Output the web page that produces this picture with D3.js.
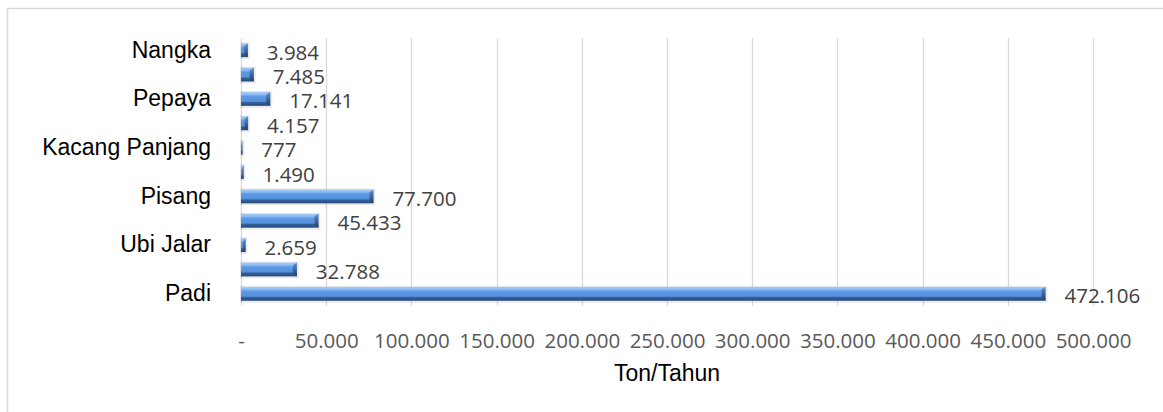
<!DOCTYPE html>
<html>
<head>
<meta charset="utf-8">
<script src="https://cdn.jsdelivr.net/npm/d3@7"></script>
<style>
  html, body { margin: 0; padding: 0; background: #fff; }
  svg { display: block; }
</style>
</head>
<body>
<div id="chart"></div>
<script>
// categories from bottom to top; only every other one is labelled in the original
const categories = ["Padi", "Jagung", "Ubi Jalar", "Ubi Kayu", "Pisang", "Cabai",
  "Kacang Panjang", "Tomat", "Pepaya", "Mangga", "Nangka"];
const production = [472106, 32788, 2659, 45433, 77700, 1490, 777, 4157, 17141, 7485, 3984];
const xTicks = [0, 50000, 100000, 150000, 200000, 250000, 300000, 350000, 400000, 450000, 500000];
const axisTitle = "Ton/Tahun";

const width = 1163, height = 412;
const plot = { left: 241, right: 1093, top: 38, bottom: 306 };

const fmt = v => v === 0 ? "-" : d3.format(",")(v).replace(/,/g, ".");

const svg = d3.select("#chart").append("svg")
  .attr("width", width)
  .attr("height", height);

// gradients for the bevelled bars
const defs = svg.append("defs");
const grad = defs.append("linearGradient")
  .attr("id", "barGrad")
  .attr("x1", 0).attr("y1", 0).attr("x2", 0).attr("y2", 1);
grad.append("stop").attr("offset", "0%").attr("stop-color", "#a9cdf5");
grad.append("stop").attr("offset", "22%").attr("stop-color", "#84b6f0");
grad.append("stop").attr("offset", "30%").attr("stop-color", "#5e9be6");
grad.append("stop").attr("offset", "68%").attr("stop-color", "#548fdb");
grad.append("stop").attr("offset", "76%").attr("stop-color", "#34609a");
grad.append("stop").attr("offset", "100%").attr("stop-color", "#264a78");

const capGrad = defs.append("linearGradient")
  .attr("id", "capGrad")
  .attr("x1", 0).attr("y1", 0).attr("x2", 0).attr("y2", 1);
capGrad.append("stop").attr("offset", "0%").attr("stop-color", "#5d8fcf");
capGrad.append("stop").attr("offset", "100%").attr("stop-color", "#1f3d66");

// chart area border
svg.append("rect")
  .attr("x", 7.5).attr("y", 8.5)
  .attr("width", width + 20).attr("height", height + 20)
  .attr("fill", "none")
  .attr("stroke", "#d9d9d9")
  .attr("stroke-width", 1.5);

const x = d3.scaleLinear()
  .domain([0, 500000])
  .range([plot.left, plot.right]);

const y = d3.scaleBand()
  .domain(categories)
  .range([plot.bottom, plot.top])
  .paddingInner(0.43)
  .paddingOuter(0.215);

// gridlines
svg.append("g")
  .selectAll("line")
  .data(xTicks)
  .join("line")
  .attr("x1", d => Math.round(x(d)) + 0.5)
  .attr("x2", d => Math.round(x(d)) + 0.5)
  .attr("y1", plot.top)
  .attr("y2", plot.bottom)
  .attr("stroke", "#d9d9d9")
  .attr("stroke-width", 1.3);

// x axis labels
const xAxis = svg.append("g")
  .attr("transform", `translate(0, ${plot.bottom})`)
  .call(d3.axisBottom(x).tickValues(xTicks).tickFormat(fmt).tickSize(0).tickPadding(27));
xAxis.select(".domain").remove();
xAxis.selectAll("text")
  .attr("font-family", "'Open Sans', sans-serif")
  .attr("font-size", "20.5px")
  .attr("fill", "#595959");

// y axis labels (every other category)
const yAxis = svg.append("g")
  .attr("transform", `translate(${plot.left}, 0)`)
  .call(d3.axisLeft(y).tickSize(0).tickPadding(30)
    .tickFormat((d, i) => i % 2 === 0 ? d : ""));
yAxis.select(".domain").remove();
yAxis.selectAll("text")
  .attr("font-family", "Arial, 'Liberation Sans', sans-serif")
  .attr("font-size", "23px")
  .attr("fill", "#000");

const rows = categories.map((c, i) => ({ name: c, value: production[i] }));

const bars = svg.append("g")
  .selectAll("g")
  .data(rows)
  .join("g");

// soft shadow
bars.append("rect")
  .attr("x", x(0) - 1)
  .attr("y", d => y(d.name) - 1)
  .attr("width", d => Math.max(1, x(d.value) - x(0)) + 3)
  .attr("height", y.bandwidth() + 3)
  .attr("fill", "#000")
  .attr("opacity", 0.08);

bars.append("rect")
  .attr("x", x(0))
  .attr("y", d => y(d.name))
  .attr("width", d => Math.max(1.5, x(d.value) - x(0)))
  .attr("height", y.bandwidth())
  .attr("fill", "url(#barGrad)");

// bevelled right end
bars.append("path")
  .attr("d", d => {
    const x1 = x(d.value), y0 = y(d.name), h = y.bandwidth();
    const b = Math.min(4, (x1 - x(0)) / 2);
    return `M${x1 - b},${y0 + 3} L${x1},${y0} L${x1},${y0 + h} L${x1 - b},${y0 + h - 3} Z`;
  })
  .attr("fill", "url(#capGrad)");

// value labels
bars.append("text")
  .attr("x", d => x(d.value) + 19)
  .attr("y", d => y(d.name) + y.bandwidth() / 2 + 1.5)
  .attr("dominant-baseline", "central")
  .attr("font-family", "'Open Sans', sans-serif")
  .attr("font-size", "20.5px")
  .attr("fill", "#404040")
  .text(d => fmt(d.value));

// axis title
svg.append("text")
  .attr("x", (plot.left + plot.right) / 2)
  .attr("y", 381)
  .attr("text-anchor", "middle")
  .attr("font-family", "Arial, 'Liberation Sans', sans-serif")
  .attr("font-size", "23px")
  .attr("fill", "#000")
  .text(axisTitle);
</script>
</body>
</html>
